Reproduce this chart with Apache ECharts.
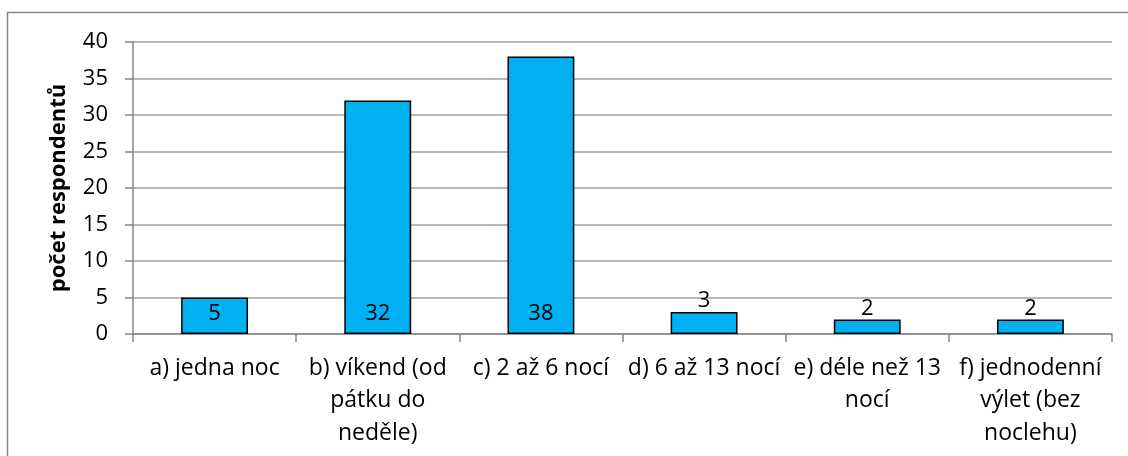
<!DOCTYPE html>
<html>
<head>
<meta charset="utf-8">
<script src="https://cdn.jsdelivr.net/npm/echarts@6/dist/echarts.min.js"></script>
<style>html,body{margin:0;padding:0;background:#fff}#c{width:1128px;height:456px}</style>
</head>
<body>
<div id="c"></div>
<script>
const categories = ["a) jedna noc", "b) víkend (od\npátku do\nneděle)", "c) 2 až 6 nocí", "d) 6 až 13 nocí", "e) déle než 13\nnocí", "f) jednodenní\nvýlet (bez\nnoclehu)"];
const values = [5, 32, 38, 3, 2, 2];
const yTicks = [0, 5, 10, 15, 20, 25, 30, 35, 40];
const yTitle = "počet respondentů";

const FONT = "Open Sans";
const chart = echarts.init(document.getElementById('c'), null, {renderer: 'canvas'});
chart.setOption({
  animation: false,
  graphic: [{
    type: 'rect', shape: {x: 7.5, y: 12.5, width: 1200, height: 500},
    style: {fill: 'none', stroke: '#868686', lineWidth: 1.5}, silent: true
  }],
  grid: {left: 133, right: 16, top: 42, bottom: 122},
  xAxis: {
    type: 'category', data: categories,
    axisLine: {lineStyle: {color: '#868686', width: 1.5}},
    axisTick: {show: true, length: 8, lineStyle: {color: '#868686', width: 1.5}},
    axisLabel: {interval: 0, margin: 18, color: '#000', fontFamily: FONT, fontSize: 23, lineHeight: 32.5}
  },
  yAxis: {
    type: 'value', min: yTicks[0], max: yTicks[yTicks.length - 1], interval: 5,
    name: yTitle, nameLocation: 'middle', nameGap: 63, nameRotate: 90,
    nameTextStyle: {fontFamily: FONT, fontSize: 22, fontWeight: 'bold', color: '#000'},
    axisLine: {show: true, lineStyle: {color: '#868686', width: 1.5}},
    axisTick: {show: true, length: 8, lineStyle: {color: '#868686', width: 1.5}},
    axisLabel: {margin: 25, color: '#000', fontFamily: FONT, fontSize: 22},
    splitLine: {lineStyle: {color: '#A0A0A0', width: 1.5}}
  },
  series: [{
    type: 'bar', barCategoryGap: '59%',
    itemStyle: {color: '#00B0F0', borderColor: '#000', borderWidth: 1.5},
    data: values.map(v => ({
      value: v,
      label: v >= 5
        ? {show: true, position: 'insideBottom', distance: 9}
        : {show: true, position: 'top', distance: 0}
    })),
    label: {color: '#000', fontFamily: FONT, fontSize: 22}
  }]
});
</script>
</body>
</html>
